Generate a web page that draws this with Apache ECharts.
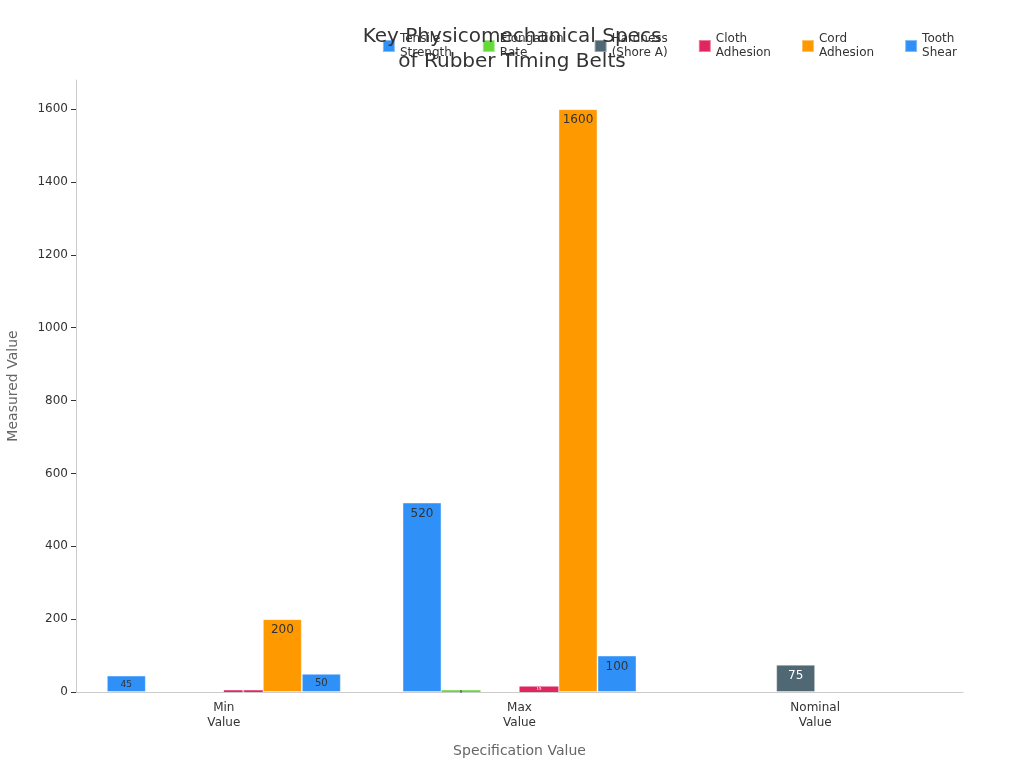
<!DOCTYPE html>
<html>
<head>
<meta charset="utf-8">
<script src="https://cdn.jsdelivr.net/npm/echarts@6/dist/echarts.min.js"></script>
<style>
html, body { margin: 0; padding: 0; background: #fff; }
#main { width: 1024px; height: 768px; }
</style>
</head>
<body>
<div id="main"></div>
<script>
var categories = ['Min\nValue', 'Max\nValue', 'Nominal\nValue'];
var seriesNames = ['Tensile\nStrength', 'Elongation\nRate', 'Hardness\n(Shore A)', 'Cloth\nAdhesion', 'Cord\nAdhesion', 'Tooth\nShear'];
var tensileStrength = [45, 520, null];
var elongationRate = [null, 5, null];
var hardness = [null, null, 75];
var clothAdhesion = [5, 15, null];
var cordAdhesion = [200, 1600, null];
var toothShear = [50, 100, null];
var seriesColors = ['#2f91f8', '#65d83a', '#4f6874', '#e0255f', '#ff9900', '#2f91f8'];
var labelColors = ['#333', '#333', '#fff', '#fff', '#333', '#333'];

var myChart = echarts.init(document.getElementById('main'));

var allData = [tensileStrength, elongationRate, hardness, clothAdhesion, cordAdhesion, toothShear];

// label size follows bar height (px per unit ~0.364)
function labelSize(v) {
    var h = v * 0.364;
    return Math.max(4, Math.min(12, h * 0.55));
}

var series = allData.map(function (arr, i) {
    return {
        name: seriesNames[i],
        type: 'bar',
        barWidth: 39,
        barGap: '0%',
        itemStyle: {
            color: seriesColors[i],
            borderColor: 'rgba(255,255,255,0.4)',
            borderWidth: 1
        },
        data: arr.map(function (v) {
            if (v == null) return null;
            return {
                value: v,
                itemStyle: v < 20 ? { borderWidth: 0 } : undefined,
                label: {
                    show: true,
                    position: 'insideTop',
                    distance: v > 30 ? 5 : 0,
                    color: labelColors[i],
                    fontSize: labelSize(v)
                }
            };
        })
    };
});

var option = {
    textStyle: { fontFamily: 'DejaVu Sans' },
    title: {
        text: 'Key Physicomechanical Specs\nof Rubber Timing Belts',
        left: 'center',
        top: 19,
        textStyle: {
            fontSize: 20,
            fontWeight: 'normal',
            color: '#333',
            lineHeight: 25
        }
    },
    legend: {
        right: 62,
        top: 27,
        itemWidth: 12,
        itemHeight: 12,
        itemGap: 30,
        icon: 'rect',
        textStyle: { fontSize: 12, color: '#333', lineHeight: 14 },
        data: seriesNames
    },
    grid: {
        left: 76,
        right: 61,
        top: 80,
        bottom: 76,
        containLabel: false,
        outerBoundsMode: 'none'
    },
    xAxis: {
        type: 'category',
        data: categories,
        name: 'Specification Value',
        nameLocation: 'middle',
        nameGap: 52,
        nameTextStyle: { color: '#666', fontSize: 14 },
        axisLine: { lineStyle: { color: '#ccc' } },
        axisTick: { alignWithLabel: true, lineStyle: { color: '#333' } },
        axisLabel: { color: '#333', fontSize: 12, lineHeight: 15 }
    },
    yAxis: {
        type: 'value',
        min: 0,
        max: 1680,
        interval: 200,
        name: 'Measured Value',
        nameLocation: 'middle',
        nameGap: 56,
        nameTextStyle: { color: '#666', fontSize: 14 },
        axisLine: { show: true, lineStyle: { color: '#ccc' } },
        axisTick: { show: true, lineStyle: { color: '#333' } },
        axisLabel: {
            color: '#333',
            fontSize: 12,
            showMaxLabel: false,
            formatter: function (v) { return String(v); }
        },
        splitLine: { show: false }
    },
    series: series
};
myChart.setOption(option);
</script>
</body>
</html>
